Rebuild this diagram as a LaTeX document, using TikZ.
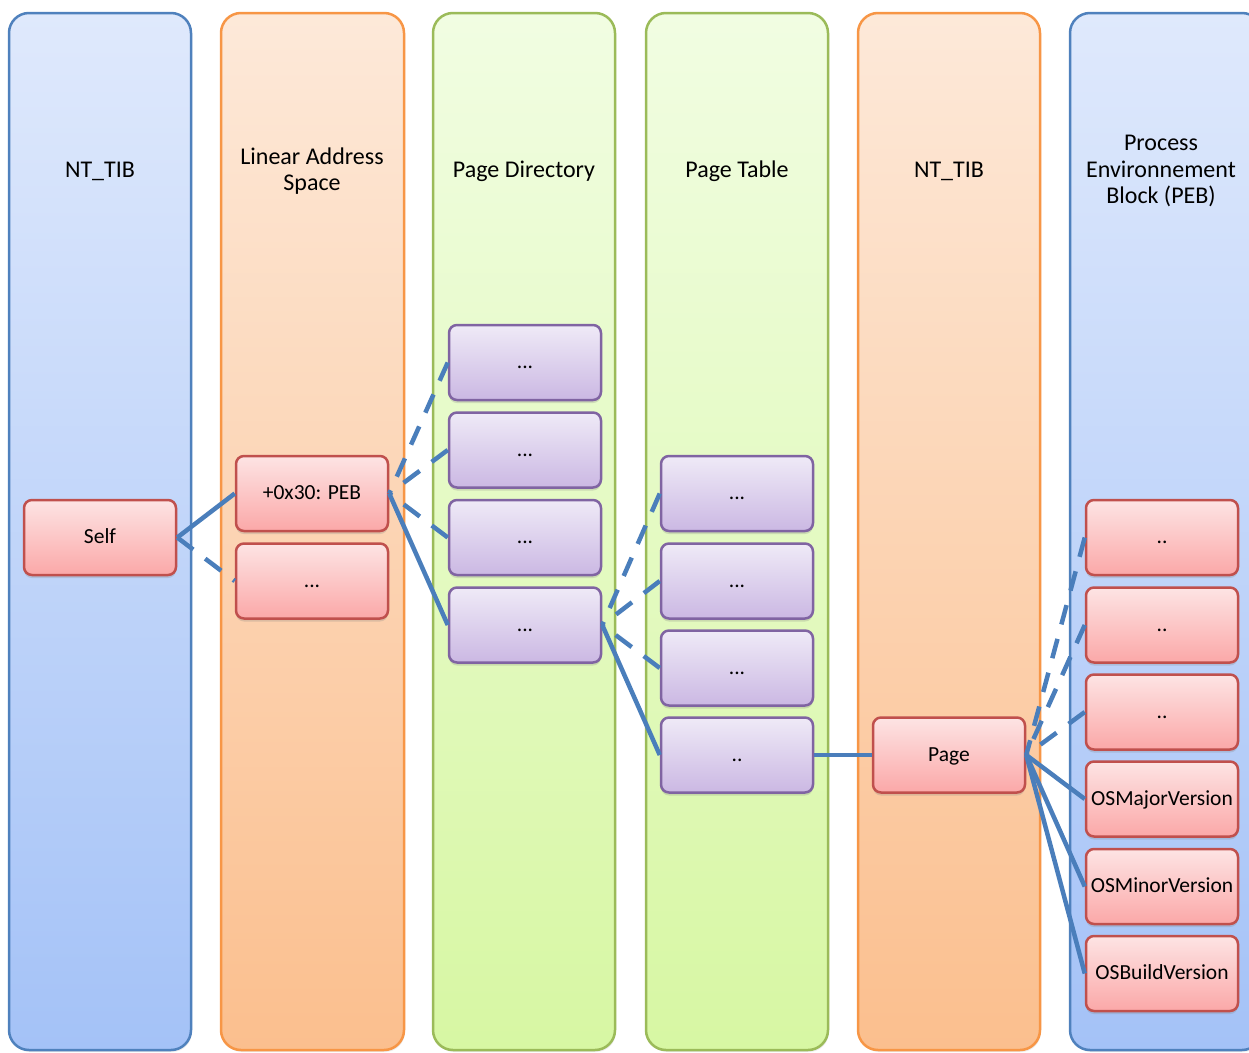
\documentclass[tikz,border=0pt]{standalone}
\usepackage{fontspec}
\setmainfont{Carlito}
\usetikzlibrary{shadows}

\definecolor{laneBlueTop}{HTML}{DFE9FC}
\definecolor{laneBlueBot}{HTML}{A4C2F7}
\definecolor{laneBlueBd}{HTML}{4F81BD}
\definecolor{laneOrgTop}{HTML}{FDE9D9}
\definecolor{laneOrgBot}{HTML}{FBBF8E}
\definecolor{laneOrgBd}{HTML}{F79646}
\definecolor{laneGrnTop}{HTML}{F1FDE2}
\definecolor{laneGrnBot}{HTML}{D7F7A3}
\definecolor{laneGrnBd}{HTML}{9BBB59}
\definecolor{redTop}{HTML}{FDE4E4}
\definecolor{redBot}{HTML}{FBA8A8}
\definecolor{redBd}{HTML}{C0504D}
\definecolor{purTop}{HTML}{EFEAF7}
\definecolor{purBot}{HTML}{CBB8E3}
\definecolor{purBd}{HTML}{8064A2}
\definecolor{wire}{HTML}{4A7EBB}

\begin{document}
\begin{tikzpicture}[x=1pt,y=-1pt,
  lane/.style={rounded corners=20pt, line width=2.5pt,
    drop shadow={shadow xshift=1pt, shadow yshift=-2pt, opacity=0.15}},
  bluelane/.style={lane, draw=laneBlueBd, top color=laneBlueTop, bottom color=laneBlueBot},
  orglane/.style={lane, draw=laneOrgBd, top color=laneOrgTop, bottom color=laneOrgBot},
  grnlane/.style={lane, draw=laneGrnBd, top color=laneGrnTop, bottom color=laneGrnBot},
  title/.style={align=center, font=\fontsize{24}{26.5}\selectfont},
  cell/.style={rounded corners=8pt, line width=2.5pt, minimum width=152pt,
    minimum height=75pt, inner sep=0pt, font=\fontsize{21.5}{25}\selectfont,
    text height=13pt, text depth=1pt,
    drop shadow={shadow xshift=0pt, shadow yshift=-3pt, opacity=0.25}},
  redcell/.style={cell, draw=redBd, top color=redTop, bottom color=redBot},
  purcell/.style={cell, draw=purBd, top color=purTop, bottom color=purBot},
  link/.style={draw=wire, line width=4.5pt},
  dlink/.style={draw=wire, line width=4.5pt, dash pattern=on 20pt off 15pt}]

\useasboundingbox (0,0) rectangle (1249,1052);
\clip (0,0) rectangle (1249,1052);

% lanes
\draw[bluelane] (9,13) rectangle (191,1050);
\draw[orglane]  (221,13) rectangle (404,1050);
\draw[grnlane]  (433,13) rectangle (615,1050);
\draw[grnlane]  (646,13) rectangle (828,1050);
\draw[orglane]  (858,13) rectangle (1040,1050);
\draw[bluelane] (1070,13) rectangle (1262,1050);

% lane titles
\node[title] (t1) at (100,171) {NT\_TIB};
\node[title] (t2) at (312,171) {Linear Address\\Space};
\node[title] (t3) at (524,171) {Page Directory};
\node[title] (t4) at (737,171) {Page Table};
\node[title] (t5) at (949,171) {NT\_TIB};
\node[title] (t6) at (1161,171) {Process\\Environnement\\Block (PEB)};

% cells
\node[redcell] (self) at (100,537.5) {Self};
\node[redcell] (peb)  at (312,493.5) {+0x30: PEB};
\node[redcell] (lasd) at (312,581)   {...};

\node[purcell] (pd1) at (525,362.5) {...};
\node[purcell] (pd2) at (525,450)   {...};
\node[purcell] (pd3) at (525,537.5) {...};
\node[purcell] (pd4) at (525,625)   {...};

\node[purcell] (pt1) at (737,493.5) {...};
\node[purcell] (pt2) at (737,581)   {...};
\node[purcell] (pt3) at (737,668)   {...};
\node[purcell] (pt4) at (737,755)   {..};

\node[redcell] (page) at (949,755) {Page};

\node[redcell] (e1)    at (1162,537.5) {..};
\node[redcell] (e2)    at (1162,625)   {..};
\node[redcell] (e3)    at (1162,712)   {..};
\node[redcell] (major) at (1162,799)   {OSMajorVersion};
\node[redcell] (minor) at (1162,886.5) {OSMinorVersion};
\node[redcell] (build) at (1162,973.5) {OSBuildVersion};

% connectors
\draw[link]  (peb.west) -- (self.east);
\draw[dlink] (self.east) -- (lasd.west);

\draw[dlink] (pd1.west) -- (peb.east);
\draw[dlink] (pd2.west) -- (peb.east);
\draw[dlink] (pd3.west) -- (peb.east);
\draw[link]  (pd4.west) -- (peb.east);

\draw[dlink] (pt1.west) -- (pd4.east);
\draw[dlink] (pt2.west) -- (pd4.east);
\draw[dlink] (pt3.west) -- (pd4.east);
\draw[link]  (pt4.west) -- (pd4.east);

\draw[link]  (pt4.east) -- (page.west);

\draw[dlink] (e1.west) -- (page.east);
\draw[dlink] (e2.west) -- (page.east);
\draw[dlink] (e3.west) -- (page.east);
\draw[link]  (page.east) -- (major.west);
\draw[link]  (page.east) -- (minor.west);
\draw[link]  (page.east) -- (build.west);
\end{tikzpicture}
\end{document}
